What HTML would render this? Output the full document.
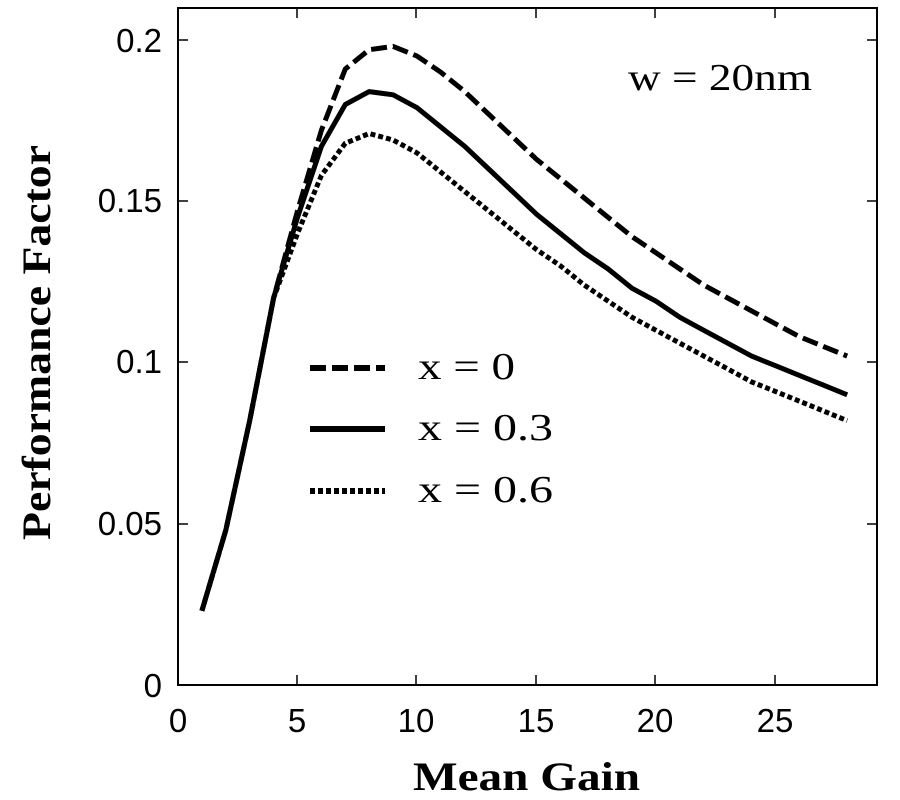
<!DOCTYPE html>
<html><head><style>body{margin:0;background:#fff}svg{display:block}</style></head><body>
<svg id="s" width="900" height="800" xmlns="http://www.w3.org/2000/svg">
<rect x="178" y="8" width="699" height="677" fill="none" stroke="#000" stroke-width="2"/>
<g stroke="#000" stroke-width="1.5">
<line x1="297" y1="685" x2="297" y2="675"/><line x1="416" y1="685" x2="416" y2="675"/><line x1="536" y1="685" x2="536" y2="675"/><line x1="655" y1="685" x2="655" y2="675"/><line x1="775" y1="685" x2="775" y2="675"/>
<line x1="297" y1="8" x2="297" y2="18"/><line x1="416" y1="8" x2="416" y2="18"/><line x1="536" y1="8" x2="536" y2="18"/><line x1="655" y1="8" x2="655" y2="18"/><line x1="775" y1="8" x2="775" y2="18"/>
<line x1="178" y1="40" x2="188" y2="40"/><line x1="178" y1="201" x2="188" y2="201"/><line x1="178" y1="362" x2="188" y2="362"/><line x1="178" y1="524" x2="188" y2="524"/>
<line x1="877" y1="40" x2="867" y2="40"/><line x1="877" y1="201" x2="867" y2="201"/><line x1="877" y1="362" x2="867" y2="362"/><line x1="877" y1="524" x2="867" y2="524"/>
</g>
<g font-family="Liberation Sans, sans-serif" font-size="33" text-anchor="end">
<text x="162" y="52">0.2</text><text x="162" y="212">0.15</text><text x="162" y="373">0.1</text><text x="162" y="535">0.05</text><text x="162" y="697">0</text>
</g>
<g font-family="Liberation Sans, sans-serif" font-size="33" text-anchor="middle">
<text x="178" y="732">0</text><text x="297" y="732">5</text><text x="416" y="732">10</text><text x="536" y="732">15</text><text x="655" y="732">20</text><text x="775" y="732">25</text>
</g>
<text x="413" y="790" font-family="Liberation Serif, serif" font-weight="bold" font-size="40" textLength="227" lengthAdjust="spacingAndGlyphs">Mean Gain</text>
<text transform="translate(50,540) rotate(-90)" font-family="Liberation Serif, serif" font-weight="bold" font-size="40" textLength="395" lengthAdjust="spacingAndGlyphs">Performance Factor</text>
<text x="628" y="90" font-family="Liberation Serif, serif" font-size="38" textLength="184" lengthAdjust="spacingAndGlyphs">w = 20nm</text>
<g stroke="#000" stroke-width="6" fill="none">
<line x1="310" y1="368" x2="385" y2="368" stroke-dasharray="16,6"/>
<line x1="310" y1="429" x2="385" y2="429"/>
<line x1="310" y1="491" x2="385" y2="491" stroke-dasharray="5,3"/>
</g>
<g font-family="Liberation Serif, serif" font-size="38">
<text x="418" y="379" textLength="97" lengthAdjust="spacingAndGlyphs">x = 0</text><text x="418" y="440" textLength="135" lengthAdjust="spacingAndGlyphs">x = 0.3</text><text x="418" y="502" textLength="135" lengthAdjust="spacingAndGlyphs">x = 0.6</text>
</g>
<g id="c" fill="none" stroke="#000" stroke-width="5" stroke-linejoin="round"></g>
</svg>
<script>
var rise=[.023,.048,.082,.12];
var A=rise.concat([.147,.172,.191,.197,.198,.195,.19,.184,.177,.17,.163,.157,.151,.145,.139,.134,.129,.124,.12,.116,.112,.108,.105,.102]);
var B=rise.concat([.145,.167,.180,.184,.183,.179,.173,.167,.16,.153,.146,.14,.134,.129,.123,.119,.114,.11,.106,.102,.099,.096,.093,.090]);
var C=rise.concat([.14,.158,.168,.171,.169,.165,.159,.153,.147,.141,.135,.13,.124,.119,.114,.11,.106,.102,.098,.094,.091,.088,.085,.082]);
function pts(d){return d.map(function(y,i){return (178+(i+1)*23.9).toFixed(1)+","+(685-y*3225).toFixed(1)}).join(" ")}
var g=document.getElementById("c"),ns="http://www.w3.org/2000/svg";
[[A,"16,6"],[B,""],[C,"5,3"]].forEach(function(s){var p=document.createElementNS(ns,"polyline");p.setAttribute("points",pts(s[0]));if(s[1])p.setAttribute("stroke-dasharray",s[1]);g.appendChild(p)});
</script>
</body></html>
